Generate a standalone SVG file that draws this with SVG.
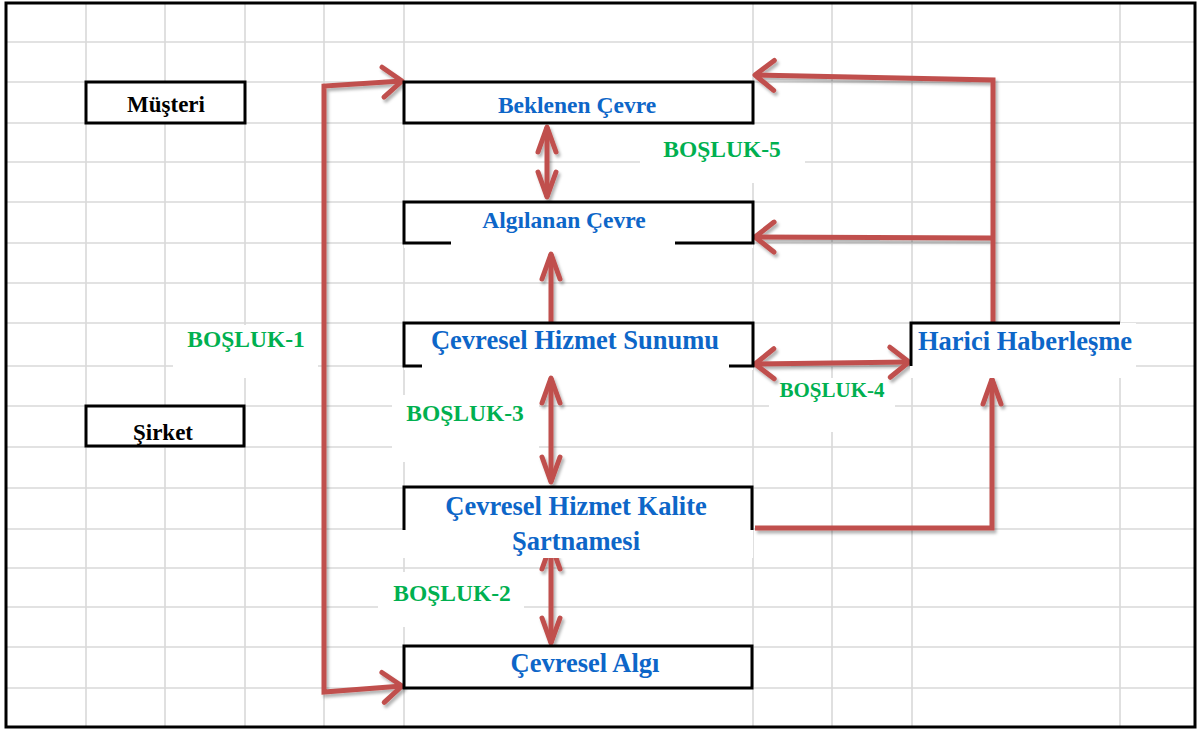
<svg xmlns="http://www.w3.org/2000/svg" width="1198" height="731" viewBox="0 0 1198 731">
  <style>
    .grid { stroke: #d9d9d9; stroke-width: 1.6; fill: none; }
    .box { fill: #ffffff; stroke: #000000; stroke-width: 3; }
    .edge { fill: none; stroke: #000000; stroke-width: 3; }
    .bg { fill: #ffffff; stroke: none; }
    .red { fill: none; stroke: #c0504d; stroke-width: 5; stroke-linejoin: miter; }
    .axis { fill: none; stroke: #000000; stroke-width: 6; }
    .t { font-family: "Liberation Serif", "Times New Roman", serif; font-weight: bold; text-anchor: middle; }
    .side { fill: #000000; font-size: 23px; }
    .blue { fill: #0d66c8; }
    .blue-s { font-size: 23.5px; }
    .blue-l { font-size: 26.5px; }
    .gap { fill: #00b050; font-size: 23.5px; }
  </style>
  <defs>
    <filter id="shadow" x="-10%" y="-10%" width="120%" height="120%">
      <feDropShadow dx="2" dy="3" stdDeviation="1.6" flood-color="#000000" flood-opacity="0.3"/>
    </filter>
    <marker id="headWide" markerUnits="userSpaceOnUse" orient="auto-start-reverse" refX="0" refY="0" markerWidth="40" markerHeight="40" overflow="visible">
      <path d="M -19 -15 L 0 0 L -19 15" fill="none" stroke="#c0504d" stroke-width="5" stroke-linecap="round" stroke-linejoin="round"/>
    </marker>
    <marker id="headNarrow" markerUnits="userSpaceOnUse" orient="auto-start-reverse" refX="0" refY="0" markerWidth="40" markerHeight="40" overflow="visible">
      <path d="M -25 -9 L 0 0 L -25 9" fill="none" stroke="#c0504d" stroke-width="5" stroke-linecap="round" stroke-linejoin="round"/>
    </marker>
    <marker id="headBlack" markerUnits="userSpaceOnUse" orient="auto-start-reverse" refX="0" refY="0" markerWidth="40" markerHeight="40" overflow="visible">
      <path d="M -20 -16 L 0 0 L -20 16" fill="none" stroke="#000000" stroke-width="6" stroke-linecap="round" stroke-linejoin="round"/>
    </marker>
  </defs>

  <rect x="0" y="0" width="1198" height="731" fill="#ffffff"/>

  <!-- sheet grid -->
  <g id="grid" class="grid">
    <path d="M86 3V727 M165 3V727 M245 3V727 M324 3V727 M404 3V727 M753 3V727 M832 3V727 M912 3V727 M1120 3V727"/>
    <path d="M6 42H1195 M6 82H1195 M6 123H1195 M6 162H1195 M6 202H1195 M6 243H1195 M6 283H1195 M6 323H1195 M6 366H1195 M6 406H1195 M6 447H1195 M6 488H1195 M6 529H1195 M6 568H1195 M6 607H1195 M6 647H1195 M6 688H1195"/>
  </g>

  <!-- white backing of the gap labels -->
  <g id="label-backs" class="bg">
    <rect x="640" y="125" width="165" height="58"/>
    <rect x="173" y="325" width="145" height="53"/>
    <rect x="769" y="378" width="126" height="54"/>
    <rect x="392" y="395" width="147" height="67"/>
    <rect x="378" y="572" width="146" height="55"/>
  </g>

  <!-- connectors -->
  <g id="connectors">
    <g filter="url(#shadow)">
      <path class="axis" d="M88 283H1124" marker-start="url(#headBlack)" marker-end="url(#headBlack)"/>
    </g>
    <g filter="url(#shadow)">
      <path class="red" d="M402 81L324 86V692L402 686" marker-start="url(#headWide)" marker-end="url(#headWide)"/>
      <path class="red" d="M993 322V80L755 75" marker-end="url(#headWide)"/>
      <path class="red" d="M991 238L755 237" marker-end="url(#headWide)"/>
      <path class="red" d="M551 322V254" marker-end="url(#headNarrow)"/>
      <path class="red" d="M547 127V197" marker-start="url(#headNarrow)" marker-end="url(#headNarrow)"/>
      <path class="red" d="M551 378V482" marker-start="url(#headNarrow)" marker-end="url(#headNarrow)"/>
      <path class="red" d="M755 364L909 362" marker-start="url(#headWide)" marker-end="url(#headWide)"/>
      <path class="red" d="M551 544V643" marker-start="url(#headNarrow)" marker-end="url(#headNarrow)"/>
      <path class="red" d="M755 528H992V379" marker-end="url(#headNarrow)"/>
    </g>
  </g>

  <!-- nodes -->
  <g id="musteri">
    <rect class="box" x="86" y="82" width="159" height="41"/>
    <text class="t side" x="166" y="112">Müşteri</text>
  </g>
  <g id="sirket">
    <rect class="box" x="86" y="406" width="158" height="40"/>
    <text class="t side" x="163" y="440">Şirket</text>
  </g>
  <g id="beklenen-cevre">
    <rect class="box" x="404" y="82" width="349" height="41"/>
    <text class="t blue blue-s" x="577" y="113">Beklenen Çevre</text>
  </g>
  <g id="algilanan-cevre">
    <rect class="bg" x="404" y="202" width="349" height="46"/>
    <path class="edge" d="M451 243H404V202H753V243H675"/>
    <text class="t blue blue-s" x="564" y="228">Algılanan Çevre</text>
  </g>
  <g id="hizmet-sunumu">
    <rect class="bg" x="404" y="323" width="349" height="47"/>
    <path class="edge" d="M422 366H404V323H753V366H729"/>
    <text class="t blue blue-l" x="575" y="349">Çevresel Hizmet Sunumu</text>
  </g>
  <g id="harici-haberlesme">
    <rect class="bg" x="910" y="323" width="226" height="55"/>
    <path class="edge" d="M911 366V323H1120"/>
    <text class="t blue blue-l" x="1025" y="350">Harici Haberleşme</text>
  </g>
  <g id="kalite-sartnamesi">
    <rect class="bg" x="403" y="487" width="350" height="71"/>
    <path class="edge" d="M404 530V487H752V530"/>
    <text class="t blue blue-l" x="576" y="515">Çevresel Hizmet Kalite</text>
    <text class="t blue blue-l" x="576" y="550">Şartnamesi</text>
  </g>
  <g id="cevresel-algi">
    <rect class="box" x="404" y="646" width="348" height="42"/>
    <text class="t blue blue-l" x="585" y="672">Çevresel Algı</text>
  </g>

  <!-- gap labels -->
  <g id="gap-labels" class="t gap">
    <text x="722" y="157">BOŞLUK-5</text>
    <text x="246" y="347">BOŞLUK-1</text>
    <text x="832" y="397" style="font-size:21px">BOŞLUK-4</text>
    <text x="465" y="421">BOŞLUK-3</text>
    <text x="452" y="601">BOŞLUK-2</text>
  </g>

  <!-- sheet frame -->
  <rect x="6" y="3" width="1189" height="724" fill="none" stroke="#000000" stroke-width="3"/>
</svg>
